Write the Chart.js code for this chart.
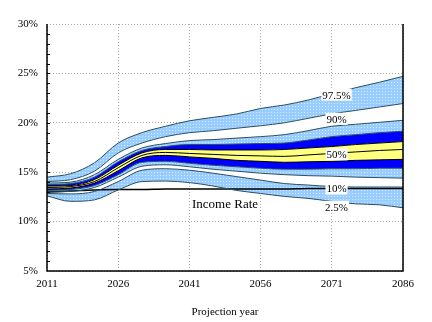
<!DOCTYPE html>
<html>
<head>
<meta charset="utf-8">
<script src="https://cdn.jsdelivr.net/npm/chart.js@4.4.1/dist/chart.umd.min.js"></script>
<style>
  html, body { margin: 0; padding: 0; background: #fff; }
  #wrap { width: 432px; height: 322px; }
</style>
</head>
<body>
<div id="wrap"><canvas id="fanChart"></canvas></div>
<script>
// projection years and percentile paths (% of payroll)
const years = [2011, 2016, 2021, 2026, 2031, 2036, 2041, 2046, 2051, 2056, 2061, 2066, 2071, 2076, 2081, 2086];
const xTicks = [2011, 2026, 2041, 2056, 2071, 2086];

const p025 = [12.6, 12.05, 12.2, 13.2, 14.05, 14.1, 13.95, 13.6, 13.15, 12.85, 12.55, 12.35, 12.05, 11.8, 11.7, 11.4];
const p10 = [12.85, 12.8, 13.05, 14.05, 15.2, 15.35, 15.2, 14.9, 14.55, 14.2, 13.85, 13.7, 13.55, 13.5, 13.5, 13.5];
const p15 = [13.0, 13.05, 13.45, 14.5, 15.6, 15.75, 15.55, 15.3, 15.1, 14.9, 14.75, 14.65, 14.6, 14.5, 14.45, 14.4];
const p25 = [13.15, 13.25, 13.65, 14.75, 16.0, 16.1, 15.9, 15.7, 15.55, 15.4, 15.3, 15.3, 15.35, 15.35, 15.4, 15.4];
const p35 = [13.3, 13.4, 13.9, 15.15, 16.45, 16.7, 16.55, 16.4, 16.2, 16.1, 16.0, 16.05, 16.1, 16.2, 16.25, 16.3];
const p50 = [13.45, 13.55, 14.05, 15.45, 16.7, 17.0, 16.9, 16.8, 16.7, 16.65, 16.6, 16.75, 16.9, 17.05, 17.2, 17.3];
const p65 = [13.6, 13.65, 14.25, 15.7, 16.95, 17.3, 17.3, 17.25, 17.25, 17.25, 17.3, 17.45, 17.6, 17.8, 17.95, 18.1];
const p75 = [13.75, 13.85, 14.5, 16.05, 17.2, 17.6, 17.8, 17.8, 17.85, 17.9, 17.95, 18.25, 18.6, 18.8, 19.0, 19.15];
const p85 = [13.9, 14.0, 14.75, 16.3, 17.45, 17.9, 18.2, 18.3, 18.45, 18.6, 18.8, 19.2, 19.65, 19.85, 20.05, 20.25];
const p90 = [14.05, 14.25, 15.1, 16.95, 17.95, 18.6, 19.0, 19.2, 19.45, 19.7, 20.0, 20.45, 20.9, 21.25, 21.6, 21.95];
const p975 = [14.5, 14.85, 15.95, 17.95, 19.0, 19.65, 20.2, 20.55, 20.9, 21.45, 21.8, 22.3, 22.95, 23.55, 24.1, 24.7];
const incomeRate = [13.0, 13.1, 13.2, 13.25, 13.25, 13.3, 13.3, 13.3, 13.3, 13.3, 13.3, 13.35, 13.35, 13.35, 13.35, 13.35];

// stippled light blue like the original
function stipple() {
  const c = document.createElement("canvas");
  c.width = 3;
  c.height = 3;
  const g = c.getContext("2d");
  g.fillStyle = "#99ccff";
  g.fillRect(0, 0, 3, 3);
  g.fillStyle = "#d6ebff";
  g.fillRect(1, 1, 1, 1);
  return g.createPattern(c, "repeat");
}
const lightBlue = stipple();
const edge = "#27505e";

function pts(arr) {
  return years.map((y, i) => ({ x: y, y: arr[i] }));
}

function band(arr, fillColor, lineColor) {
  return {
    data: pts(arr),
    borderColor: lineColor,
    borderWidth: 1,
    pointRadius: 0,
    cubicInterpolationMode: "monotone",
    fill: fillColor ? "-1" : false,
    backgroundColor: fillColor || "transparent",
  };
}

const datasets = [
  band(p025, null, edge),
  band(p10, lightBlue, edge),
  band(p15, "#ffffff", edge),
  band(p25, lightBlue, edge),
  band(p35, "#0000ff", "#000000"),
  band(p50, "#ffff80", "#000000"),
  band(p65, "#ffff80", "#000000"),
  band(p75, "#0000ff", edge),
  band(p85, lightBlue, edge),
  band(p90, "#ffffff", edge),
  band(p975, lightBlue, edge),
  {
    data: pts(incomeRate),
    borderColor: "#000000",
    borderWidth: 1.5,
    pointRadius: 0,
    cubicInterpolationMode: "monotone",
    fill: false,
  },
];

const serif = "'Liberation Serif', 'Times New Roman', serif";

const decorations = {
  id: "decorations",
  afterDatasetsDraw(chart) {
    const ctx = chart.ctx;
    const x = chart.scales.x;
    const y = chart.scales.y;
    const a = chart.chartArea;
    ctx.save();

    // solid frame on left, bottom and right
    ctx.strokeStyle = "#000";
    ctx.lineWidth = 1.5;
    ctx.beginPath();
    ctx.moveTo(a.left, a.top);
    ctx.lineTo(a.left, a.bottom);
    ctx.lineTo(a.right, a.bottom);
    ctx.lineTo(a.right, a.top);
    ctx.stroke();

    // minor ticks every 1%
    ctx.lineWidth = 1;
    for (let v = 6; v < 30; v++) {
      const py = Math.round(y.getPixelForValue(v)) + 0.5;
      ctx.beginPath();
      ctx.moveTo(a.left, py);
      ctx.lineTo(a.left + 3, py);
      ctx.stroke();
    }

    // percentile labels
    const labels = [
      ["97.5%", 2072, 22.85],
      ["90%", 2072, 20.4],
      ["50%", 2072, 16.8],
      ["10%", 2072, 13.35],
      ["2.5%", 2072, 11.5],
    ];
    ctx.font = "11px " + serif;
    ctx.textAlign = "center";
    ctx.textBaseline = "middle";
    labels.forEach(([t, yr, v]) => {
      const px = x.getPixelForValue(yr);
      const py = y.getPixelForValue(v);
      const w = ctx.measureText(t).width;
      ctx.fillStyle = "#fff";
      ctx.fillRect(px - w / 2 - 1, py - 6, w + 2, 12);
      ctx.fillStyle = "#000";
      ctx.fillText(t, px, py + 1);
    });

    ctx.font = "13px " + serif;
    ctx.fillStyle = "#000";
    ctx.fillText("Income Rate", x.getPixelForValue(2048.5), y.getPixelForValue(11.7));
    ctx.restore();
  },
};

new Chart(document.getElementById("fanChart"), {
  type: "line",
  data: { datasets: datasets },
  options: {
    responsive: true,
    maintainAspectRatio: false,
    animation: false,
    layout: { padding: { top: 24, right: 29, left: 0, bottom: 0 } },
    plugins: {
      legend: { display: false },
      tooltip: { enabled: false },
      filler: { drawTime: "beforeDatasetsDraw" },
    },
    scales: {
      x: {
        type: "linear",
        min: 2011,
        max: 2086,
        afterBuildTicks: (s) => {
          s.ticks = xTicks.map((v) => ({ value: v }));
        },
        afterFit: (s) => {
          s.height = 51;
        },
        ticks: {
          color: "#000",
          font: { family: serif, size: 11 },
          padding: 7,
          maxRotation: 0,
          callback: (v) => String(v),
        },
        grid: { color: "#a8a8a8", lineWidth: 1, drawTicks: false },
        border: { display: false, dash: [1, 2] },
        title: {
          display: true,
          text: "Projection year",
          color: "#000",
          font: { family: serif, size: 11 },
          padding: { top: 0, bottom: 3 },
        },
      },
      y: {
        min: 5,
        max: 30,
        afterFit: (s) => {
          s.width = 47;
        },
        ticks: {
          stepSize: 5,
          color: "#000",
          font: { family: serif, size: 11 },
          padding: 9,
          callback: (v) => v + "%",
        },
        grid: { color: "#a8a8a8", lineWidth: 1, drawTicks: false },
        border: { display: false, dash: [1, 2] },
      },
    },
  },
  plugins: [decorations],
});
</script>
</body>
</html>
